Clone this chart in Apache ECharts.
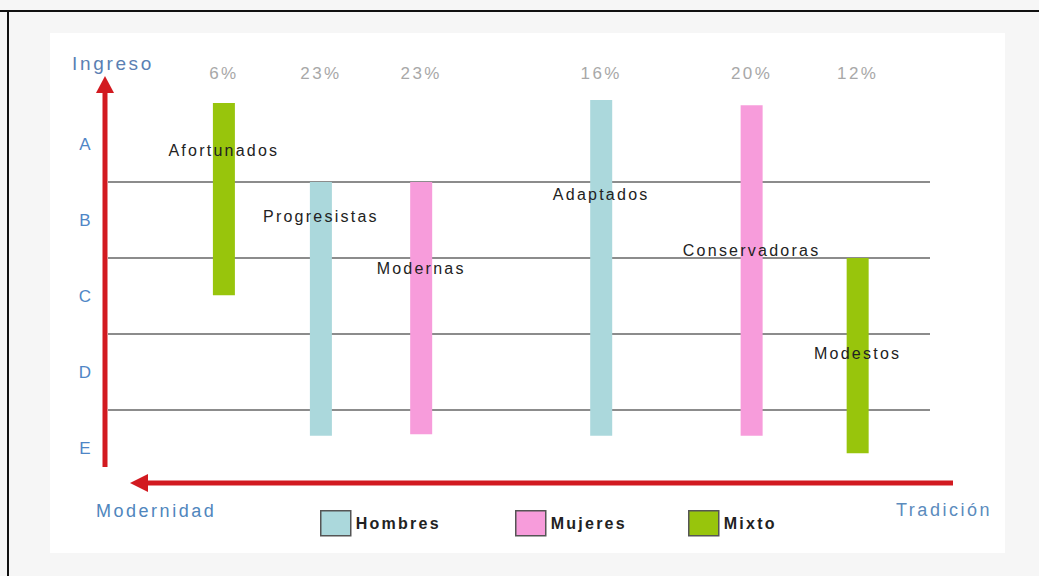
<!DOCTYPE html>
<html>
<head>
<meta charset="utf-8">
<script src="https://cdn.jsdelivr.net/npm/echarts@6/dist/echarts.min.js"></script>
<style>
html,body{margin:0;padding:0;background:#f6f6f6;}
#c{width:1039px;height:576px;}
#c svg text{letter-spacing:0.14em;}
</style>
</head>
<body>
<div id="c"></div>
<script>
// ---- data ----
const segments   = ['Afortunados','Progresistas','Modernas','Adaptados','Conservadoras','Modestos'];
const groups     = ['Mixto','Hombres','Mujeres','Hombres','Mujeres','Mixto'];
const shares     = [6, 23, 23, 16, 20, 12];
const tradition  = [14.1, 25.9, 38.1, 60.0, 78.3, 91.2];   // position on modernity -> tradition scale
const incomeHigh = [5.04, 4.0, 4.0, 5.08, 5.01, 3.0];
const incomeLow  = [2.51, 0.66, 0.68, 0.66, 0.66, 0.43];
const labelLevel = [4.42, 3.54, 2.86, 3.84, 3.10, 1.75];
const incomeLabels = ['E','D','C','B','A'];
const groupNames = ['Hombres','Mujeres','Mixto'];
const groupColors = {Hombres:'#abd8dc', Mujeres:'#f79cdb', Mixto:'#98c50c'};

const FONT = '"Liberation Sans", Arial, sans-serif';
const chart = echarts.init(document.getElementById('c'), null, {renderer:'svg'});

function seriesData(g){
  const out = [];
  segments.forEach((s,i)=>{ if(groups[i]===g) out.push({name:s, value:[tradition[i], incomeLow[i], incomeHigh[i], labelLevel[i], shares[i]]}); });
  return out;
}

const series = groupNames.map(g => ({
  name: g,
  type: 'custom',
  xAxisIndex: 0,
  yAxisIndex: 1,
  itemStyle: {color: groupColors[g]},
  encode: {x: 0, y: [1,2]},
  data: seriesData(g),
  renderItem: function(params, api){
    const x = api.value(0), lo = api.value(1), hi = api.value(2), ly = api.value(3), pct = api.value(4);
    const top = api.coord([x, hi]), bot = api.coord([x, lo]), lab = api.coord([x, ly]);
    const w = 22;
    const name = seriesData(g)[params.dataIndex].name;
    return {type:'group', children:[
      {type:'rect', shape:{x: top[0]-w/2, y: top[1], width: w, height: bot[1]-top[1]}, style:{fill: api.visual('color')}},
      {type:'text', z2: 5, style:{text: pct + '%', x: top[0], y: params.coordSys.y - 33, align:'center', verticalAlign:'middle', fill:'#a8a8a8', fontSize: 17, fontFamily: FONT}},
      {type:'text', z2: 10, style:{text: name, x: lab[0], y: lab[1], align:'center', verticalAlign:'middle', fill:'#222', fontSize: 16, fontFamily: FONT}}
    ]};
  }
}));

const legendPos = [320, 515, 688];
const option = {
  animation: false,
  backgroundColor: '#f6f6f6',
  grid: {left: 108, right: 109, top: 106, bottom: 90},
  xAxis: {type:'value', min:0, max:100, show:false},
  yAxis: [
    {type:'category', data: incomeLabels, position:'left',
     axisLine:{show:false}, axisTick:{show:false}, splitLine:{show:false},
     axisLabel:{color:'#4f86c6', fontSize:17, fontFamily: FONT, align:'center', margin:22}},
    {type:'value', min:0, max:5, interval:1, position:'right',
     axisLine:{show:false}, axisTick:{show:false}, axisLabel:{show:false},
     splitLine:{show:true, showMinLine:false, showMaxLine:false, lineStyle:{color:'#666', width:1.6}}}
  ],
  legend: groupNames.map((g,i)=>({
    data:[g], left: legendPos[i] - 5, top: 505, icon:'rect', itemWidth: 30, itemHeight: 25, itemGap: 0,
    itemStyle:{borderColor:'#555', borderWidth:1.5},
    textStyle:{color:'#222', fontSize:16, fontWeight:'bold', fontFamily: FONT, padding:[12,0,0,0]},
    selectedMode:false
  })),
  graphic: [
    {type:'rect', z:-10, silent:true, shape:{x:50, y:33, width:955, height:520}, style:{fill:'#ffffff'}},
    {type:'line', z:100, shape:{x1:0, y1:11, x2:1039, y2:11}, style:{stroke:'#111', lineWidth:2}},
    {type:'line', z:100, shape:{x1:8, y1:11, x2:8, y2:576}, style:{stroke:'#111', lineWidth:2}},
    // vertical arrow (Ingreso)
    {type:'line', shape:{x1:105, y1:467, x2:105, y2:90}, style:{stroke:'#d21a20', lineWidth:5}},
    {type:'polygon', shape:{points:[[105,76],[96,93],[114,93]]}, style:{fill:'#d21a20'}},
    // horizontal arrow (Tradición -> Modernidad)
    {type:'line', shape:{x1:953, y1:483, x2:145, y2:483}, style:{stroke:'#d21a20', lineWidth:5}},
    {type:'polygon', shape:{points:[[130,483],[148,474],[148,492]]}, style:{fill:'#d21a20'}},
    {type:'text', left:72, top:54, style:{text:'Ingreso', fill:'#5a7fb3', fontSize:19, fontFamily: FONT}},
    {type:'text', left:96, top:502, style:{text:'Modernidad', fill:'#4f86bd', fontSize:18, fontFamily: FONT}},
    {type:'text', left:896, top:501, style:{text:'Tradición', fill:'#5b8bbd', fontSize:18, fontFamily: FONT}}
  ],
  series: series
};
chart.setOption(option);
</script>
</body>
</html>
